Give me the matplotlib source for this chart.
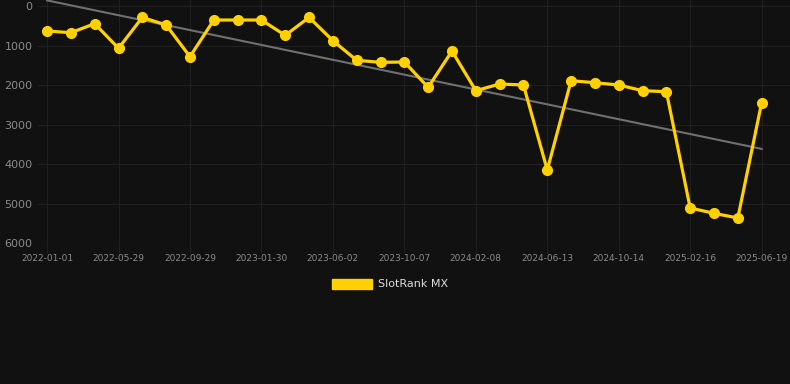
import matplotlib
matplotlib.use("Agg")
import matplotlib.pyplot as plt
from matplotlib.patches import Patch
import numpy as np

# Data
tick_labels = ["2022-01-01", "2022-05-29", "2022-09-29", "2023-01-30", "2023-06-02",
               "2023-10-07", "2024-02-08", "2024-06-13", "2024-10-14", "2025-02-16",
               "2025-06-19"]
ranks = [625, 668, 440, 1063, 280, 473, 1275, 347, 347, 347,
         735, 280, 870, 1367, 1418, 1410, 2051, 1132, 2136, 1967,
         1992, 4144, 1883, 1934, 1992, 2136, 2162, 5106, 5241, 5359,
         2440]
series_name = "SlotRank MX"

BG = "#111111"
GRID = "#202020"
YELLOW = "#FFD100"
TXT = "#8a8a8a"

fig = plt.figure(figsize=(7.9, 3.84), dpi=100, facecolor=BG)
ax = fig.add_axes([38 / 790, 1 - 243.3 / 384, (790 - 38) / 790, 243.3 / 384])
ax.set_facecolor(BG)

x = np.arange(len(ranks))
y = np.array(ranks, dtype=float)

# trend line (linear regression)
coef = np.polyfit(x, y, 1)
ax.plot([x[0], x[-1]], np.polyval(coef, [x[0], x[-1]]), color="#707070", lw=1.5, zorder=2)

ax.plot(x, y, color=YELLOW, lw=2.3, marker="o", markersize=7, zorder=3)

ax.set_xlim(-0.38, 31.19)
ax.set_ylim(6000, -160)
ax.set_yticks([0, 1000, 2000, 3000, 4000, 5000, 6000])
ax.set_xticks(x[::3])
ax.set_xticklabels(tick_labels)

ax.grid(True, color=GRID, lw=0.8)
ax.set_axisbelow(True)
for s in ax.spines.values():
    s.set_visible(False)
ax.tick_params(axis="y", length=0, labelsize=8, colors=TXT, pad=4)
ax.tick_params(axis="x", length=7, width=0.8, color=GRID, labelsize=6.5, colors=TXT, pad=1)

handle = Patch(facecolor=YELLOW, edgecolor=YELLOW)
fig.legend([handle], [series_name], loc="center", bbox_to_anchor=(390 / 790, 1 - 284 / 384),
           frameon=False, fontsize=8, labelcolor="#dddddd",
           handlelength=3.6, handleheight=1.0, handletextpad=0.55)

fig.savefig("out.png", dpi=100, facecolor=BG)
